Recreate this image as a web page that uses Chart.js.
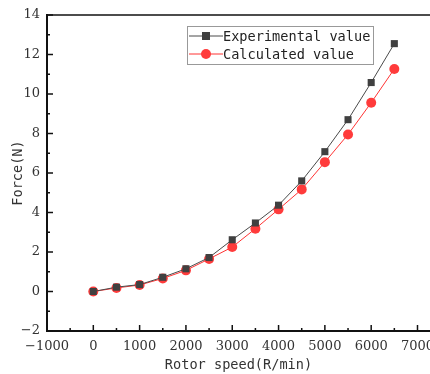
<!DOCTYPE html>
<html lang="en">
<head>
    <meta charset="UTF-8">
    <title>Force vs rotor speed</title>
    <script src="https://cdn.jsdelivr.net/npm/chart.js"></script>
    <style>
        html, body { margin: 0; padding: 0; background: #fff; }
        #wrap { width: 430px; height: 374px; }
    </style>
</head>
<body>
    <div id="wrap">
        <canvas id="Chart" width="430" height="374"></canvas>
    </div>

    <script>
        // data
        const speeds = [0, 500, 1000, 1500, 2000, 2500, 3000, 3500, 4000, 4500, 5000, 5500, 6000, 6500];
        const experimental = [0, 0.22, 0.35, 0.72, 1.15, 1.72, 2.62, 3.47, 4.37, 5.6, 7.08, 8.7, 10.58, 12.55];
        const calculated = [0, 0.18, 0.33, 0.66, 1.07, 1.65, 2.25, 3.18, 4.16, 5.17, 6.55, 7.95, 9.56, 11.27];
        const seriesNames = ['Experimental value', 'Calculated value'];
        const xTicks = [-1000, 0, 1000, 2000, 3000, 4000, 5000, 6000, 7000];
        const yTicks = [-2, 0, 2, 4, 6, 8, 10, 12, 14];

        const monoFont = 'DejaVu Sans Mono, monospace';
        const serifFont = 'DejaVu Serif, serif';

        // inside ticks, top border and the boxed legend
        const decor = {
            id: 'decor',
            afterDraw(chart) {
                const ctx = chart.ctx;
                const a = chart.chartArea;
                const xs = chart.scales.x, ys = chart.scales.y;
                ctx.save();
                ctx.strokeStyle = '#111';
                ctx.lineWidth = 1.5;
                ctx.beginPath();
                ctx.moveTo(a.left, a.top);
                ctx.lineTo(a.right, a.top);
                ctx.stroke();
                for (let v = -1000; v <= 7000; v += 500) {
                    const px = xs.getPixelForValue(v);
                    const len = v % 1000 === 0 ? 6 : 3;
                    ctx.beginPath();
                    ctx.moveTo(px, a.bottom);
                    ctx.lineTo(px, a.bottom - len);
                    ctx.stroke();
                }
                for (let v = -2; v <= 14; v += 1) {
                    const py = ys.getPixelForValue(v);
                    const len = v % 2 === 0 ? 6 : 3;
                    ctx.beginPath();
                    ctx.moveTo(a.left, py);
                    ctx.lineTo(a.left + len, py);
                    ctx.stroke();
                }
                // legend
                const lx = 187, ly = 26, lw = 186, lh = 38;
                ctx.strokeStyle = '#999';
                ctx.lineWidth = 1;
                ctx.strokeRect(lx + 0.5, ly + 0.5, lw, lh);
                ctx.font = '13.6px ' + monoFont;
                ctx.textBaseline = 'middle';
                chart.data.datasets.forEach((ds, i) => {
                    const cy = ly + 10 + i * 18;
                    ctx.strokeStyle = ds.borderColor;
                    ctx.lineWidth = 1;
                    ctx.beginPath();
                    ctx.moveTo(lx + 2, cy);
                    ctx.lineTo(lx + 36, cy);
                    ctx.stroke();
                    ctx.fillStyle = ds.pointBackgroundColor;
                    if (ds.pointStyle === 'rect') {
                        ctx.fillRect(lx + 15, cy - 4, 8, 8);
                    } else {
                        ctx.beginPath();
                        ctx.arc(lx + 19, cy, 5, 0, Math.PI * 2);
                        ctx.fill();
                    }
                    ctx.fillStyle = '#222';
                    ctx.fillText(ds.label, lx + 36, cy + 1);
                });
                ctx.restore();
            }
        };

        const ctx = document.getElementById('Chart');
        new Chart(ctx, {
            type: 'line',
            data: {
                datasets: [{
                    label: seriesNames[0],
                    data: speeds.map((s, i) => ({ x: s, y: experimental[i] })),
                    borderColor: '#4a4a4a',
                    borderWidth: 1,
                    pointStyle: 'rect',
                    pointRadius: 5,
                    pointBackgroundColor: '#404040',
                    pointBorderColor: '#404040',
                    pointBorderWidth: 0,
                    tension: 0
                }, {
                    label: seriesNames[1],
                    data: speeds.map((s, i) => ({ x: s, y: calculated[i] })),
                    borderColor: '#ff3333',
                    borderWidth: 1,
                    pointStyle: 'circle',
                    pointRadius: 5,
                    pointBackgroundColor: '#ff3b3b',
                    pointBorderColor: '#ff3b3b',
                    pointBorderWidth: 0,
                    tension: 0
                }]
            },
            options: {
                responsive: false,
                animation: false,
                layout: { autoPadding: false, padding: { top: 15, right: 0, left: 0, bottom: 0 } },
                plugins: { legend: { display: false }, tooltip: { enabled: false } },
                scales: {
                    x: {
                        type: 'linear',
                        min: -1000,
                        max: 7270,
                        afterBuildTicks: (s) => { s.ticks = xTicks.map(v => ({ value: v })); },
                        afterFit: (s) => { s.height = 43; s.paddingRight = 0; s.paddingLeft = 0; },
                        grid: { display: false, drawTicks: false },
                        border: { display: true, color: '#111', width: 2 },
                        ticks: {
                            padding: 8,
                            color: '#333',
                            autoSkip: false,
                            maxRotation: 0,
                            minRotation: 0,
                            font: { family: serifFont, size: 13 },
                            callback: (v) => String(v).replace('-', '\u2212')
                        },
                        title: {
                            display: true,
                            text: 'Rotor speed(R/min)',
                            color: '#333',
                            font: { family: monoFont, size: 13.6 },
                            padding: { top: 4, bottom: 0 }
                        }
                    },
                    y: {
                        min: -2,
                        max: 14,
                        afterBuildTicks: (s) => { s.ticks = yTicks.map(v => ({ value: v })); },
                        afterFit: (s) => { s.width = 47; },
                        grid: { display: false, drawTicks: false },
                        border: { display: true, color: '#111', width: 2 },
                        ticks: {
                            padding: 7,
                            color: '#333',
                            font: { family: serifFont, size: 13 },
                            callback: (v) => String(v).replace('-', '\u2212')
                        },
                        title: {
                            display: true,
                            text: 'Force(N)',
                            color: '#333',
                            font: { family: monoFont, size: 13.6 },
                            padding: { top: 10, bottom: 0 }
                        }
                    }
                }
            },
            plugins: [decor]
        });
    </script>
</body>
</html>
